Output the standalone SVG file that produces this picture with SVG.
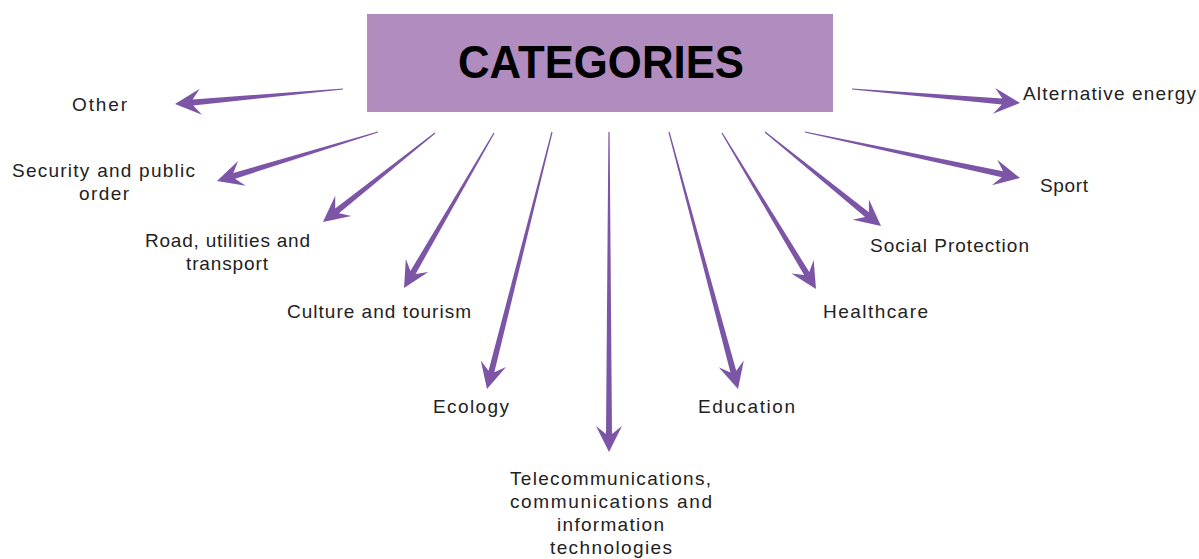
<svg xmlns="http://www.w3.org/2000/svg" width="1199" height="559" viewBox="0 0 1199 559">
<style>
.lbl{font-family:"Liberation Sans",Arial,sans-serif;font-size:19px;fill:#222;text-anchor:middle}
.arr{fill:#7d55a6}
.title{font-family:"Liberation Sans",Arial,sans-serif;font-weight:bold;font-size:47px;fill:#000;text-anchor:middle}
</style>
<rect width="1199" height="559" fill="#fff"/>
<g id="categories">
<rect x="367" y="14" width="466" height="98" fill="#b18dbf"/>
<text class="title" x="601" y="78" textLength="286" lengthAdjust="spacingAndGlyphs">CATEGORIES</text>
</g>
<g id="connectors">
<path class="arr" transform="translate(343,89) rotate(174.9)" d="M0,-0.6 L150.7,-3 L142.7,-13 L168.7,0 L142.7,13 L150.7,3 L0,0.6Z"/>
<path class="arr" transform="translate(378,132) rotate(163.07)" d="M0,-0.6 L150.3,-3 L142.3,-13 L168.3,0 L142.3,13 L150.3,3 L0,0.6Z"/>
<path class="arr" transform="translate(435,133) rotate(141.53)" d="M0,-0.6 L125.1,-3 L117.1,-13 L143.1,0 L117.1,13 L125.1,3 L0,0.6Z"/>
<path class="arr" transform="translate(494,133) rotate(120.14)" d="M0,-0.6 L161.2,-3 L153.2,-13 L179.2,0 L153.2,13 L161.2,3 L0,0.6Z"/>
<path class="arr" transform="translate(552,132) rotate(104.19)" d="M0,-0.6 L247.1,-3 L239.1,-13 L265.1,0 L239.1,13 L247.1,3 L0,0.6Z"/>
<path class="arr" transform="translate(609,132) rotate(90)" d="M0,-0.6 L302,-3 L294,-13 L320,0 L294,13 L302,3 L0,0.6Z"/>
<path class="arr" transform="translate(669,132) rotate(74.97)" d="M0,-0.6 L248.1,-3 L240.1,-13 L266.1,0 L240.1,13 L248.1,3 L0,0.6Z"/>
<path class="arr" transform="translate(722,133) rotate(58.93)" d="M0,-0.6 L164.1,-3 L156.1,-13 L182.1,0 L156.1,13 L164.1,3 L0,0.6Z"/>
<path class="arr" transform="translate(765,132) rotate(39.02)" d="M0,-0.6 L131.3,-3 L123.3,-13 L149.3,0 L123.3,13 L131.3,3 L0,0.6Z"/>
<path class="arr" transform="translate(805,132) rotate(12.08)" d="M0,-0.6 L201.9,-3 L193.9,-13 L219.9,0 L193.9,13 L201.9,3 L0,0.6Z"/>
<path class="arr" transform="translate(852,89) rotate(4.76)" d="M0,-0.6 L150.6,-3 L142.6,-13 L168.6,0 L142.6,13 L150.6,3 L0,0.6Z"/>
</g>
<g id="other"><text class="lbl" x="99.5" y="111" textLength="55">Other</text></g>
<g id="security"><text class="lbl" x="103.5" y="177" textLength="183">Security and public</text><text class="lbl" x="104" y="200" textLength="50">order</text></g>
<g id="road"><text class="lbl" x="227.5" y="247" textLength="165">Road, utilities and</text><text class="lbl" x="227" y="270" textLength="82">transport</text></g>
<g id="culture"><text class="lbl" x="379" y="318" textLength="184">Culture and tourism</text></g>
<g id="ecology"><text class="lbl" x="471" y="413" textLength="76">Ecology</text></g>
<g id="telecom">
<text class="lbl" x="610.5" y="485" textLength="201">Telecommunications,</text>
<text class="lbl" x="611" y="508" textLength="202">communications and</text>
<text class="lbl" x="610.5" y="531" textLength="107">information</text>
<text class="lbl" x="611" y="554" textLength="122">technologies</text>
</g>
<g id="education"><text class="lbl" x="746.5" y="413" textLength="97">Education</text></g>
<g id="healthcare"><text class="lbl" x="875.5" y="318" textLength="105">Healthcare</text></g>
<g id="social"><text class="lbl" x="949.5" y="252" textLength="159">Social Protection</text></g>
<g id="sport"><text class="lbl" x="1064" y="192" textLength="48">Sport</text></g>
<g id="alternative"><text class="lbl" x="1109.5" y="100" textLength="173">Alternative energy</text></g>
</svg>
